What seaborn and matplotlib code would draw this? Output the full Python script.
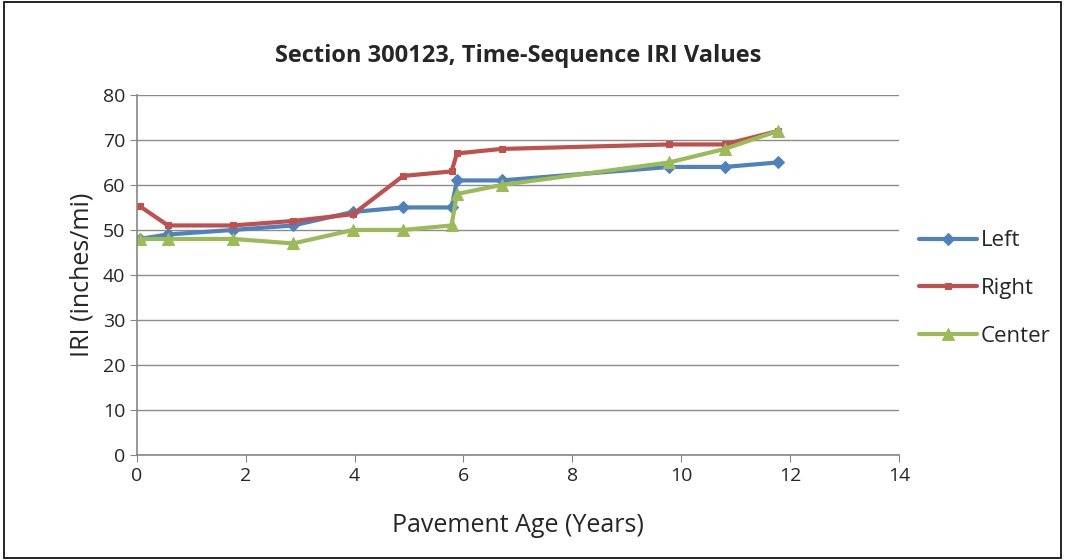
import pandas as pd
import numpy as np
import matplotlib.pyplot as plt
import seaborn as sns

sns.set_style("white")
plt.rcParams['font.family'] = ['Open Sans', 'DejaVu Sans']

# pavement age (years) at each survey
age = [0.05, 0.57, 1.77, 2.87, 3.97, 4.89, 5.78, 5.88, 6.7, 9.78, 10.8, 11.78]
left = [48, 49, 50, 51, 54, 55, 55, 61, 61, 64, 64, 65]
right = [55.3, 51, 51, 52, 53.5, 62, 63, 67, 68, 69, 69, 72]
center = [48, 48, 48, 47, 50, 50, 51, 58, 60, 65, 68, 72]

series = ["Left", "Right", "Center"]
colors = ["#4F81BD", "#C0504D", "#9BBB59"]
markers = ["D", "s", "^"]
msizes = [6, 4, 8]

df = pd.DataFrame({"Age": age * 3,
                   "IRI": left + right + center,
                   "Side": np.repeat(series, len(age))})

fig = plt.figure(figsize=(10.65, 5.6), dpi=100)
ax = fig.add_axes([0.1286, 0.1875, 0.7154, 0.643])

for s, c, m, ms in zip(series, colors, markers, msizes):
    d = df[df["Side"] == s]
    sns.lineplot(data=d, x="Age", y="IRI", ax=ax, color=c, marker=m,
                 markersize=ms, markeredgecolor=c, linewidth=3, label=s,
                 sort=False)

ax.set_xlim(0, 14)
ax.set_ylim(0, 80)
ax.set_xticks(range(0, 15, 2))
ax.set_yticks(range(0, 81, 10))
ax.yaxis.grid(True, color="#8c8c8c", linewidth=1)
ax.set_axisbelow(True)
for sp in ["top", "right"]:
    ax.spines[sp].set_visible(False)
for sp in ["left", "bottom"]:
    ax.spines[sp].set_color("#868686")
    ax.spines[sp].set_linewidth(1.2)
ax.tick_params(axis='both', labelsize=14, length=5, direction='out',
               color="#868686", bottom=True, left=True)
ax.set_xlabel("Pavement Age (Years)", fontsize=18, labelpad=20)
ax.set_ylabel("IRI (inches/mi)", fontsize=18, labelpad=6)
ax.set_title("Section 300123, Time-Sequence IRI Values", fontsize=17,
             fontweight="bold", pad=24)

ax.legend(loc="center left", bbox_to_anchor=(1.0, 0.462), frameon=False,
          fontsize=16, labelspacing=1.2, handlelength=2.6, handletextpad=0.2)

# outer chart frame
fig.patches.append(plt.Rectangle((0.004, 0.004), 0.992, 0.992,
                                 transform=fig.transFigure, fill=False,
                                 edgecolor="black", linewidth=1.2))

fig.savefig("out.png", dpi=100)
